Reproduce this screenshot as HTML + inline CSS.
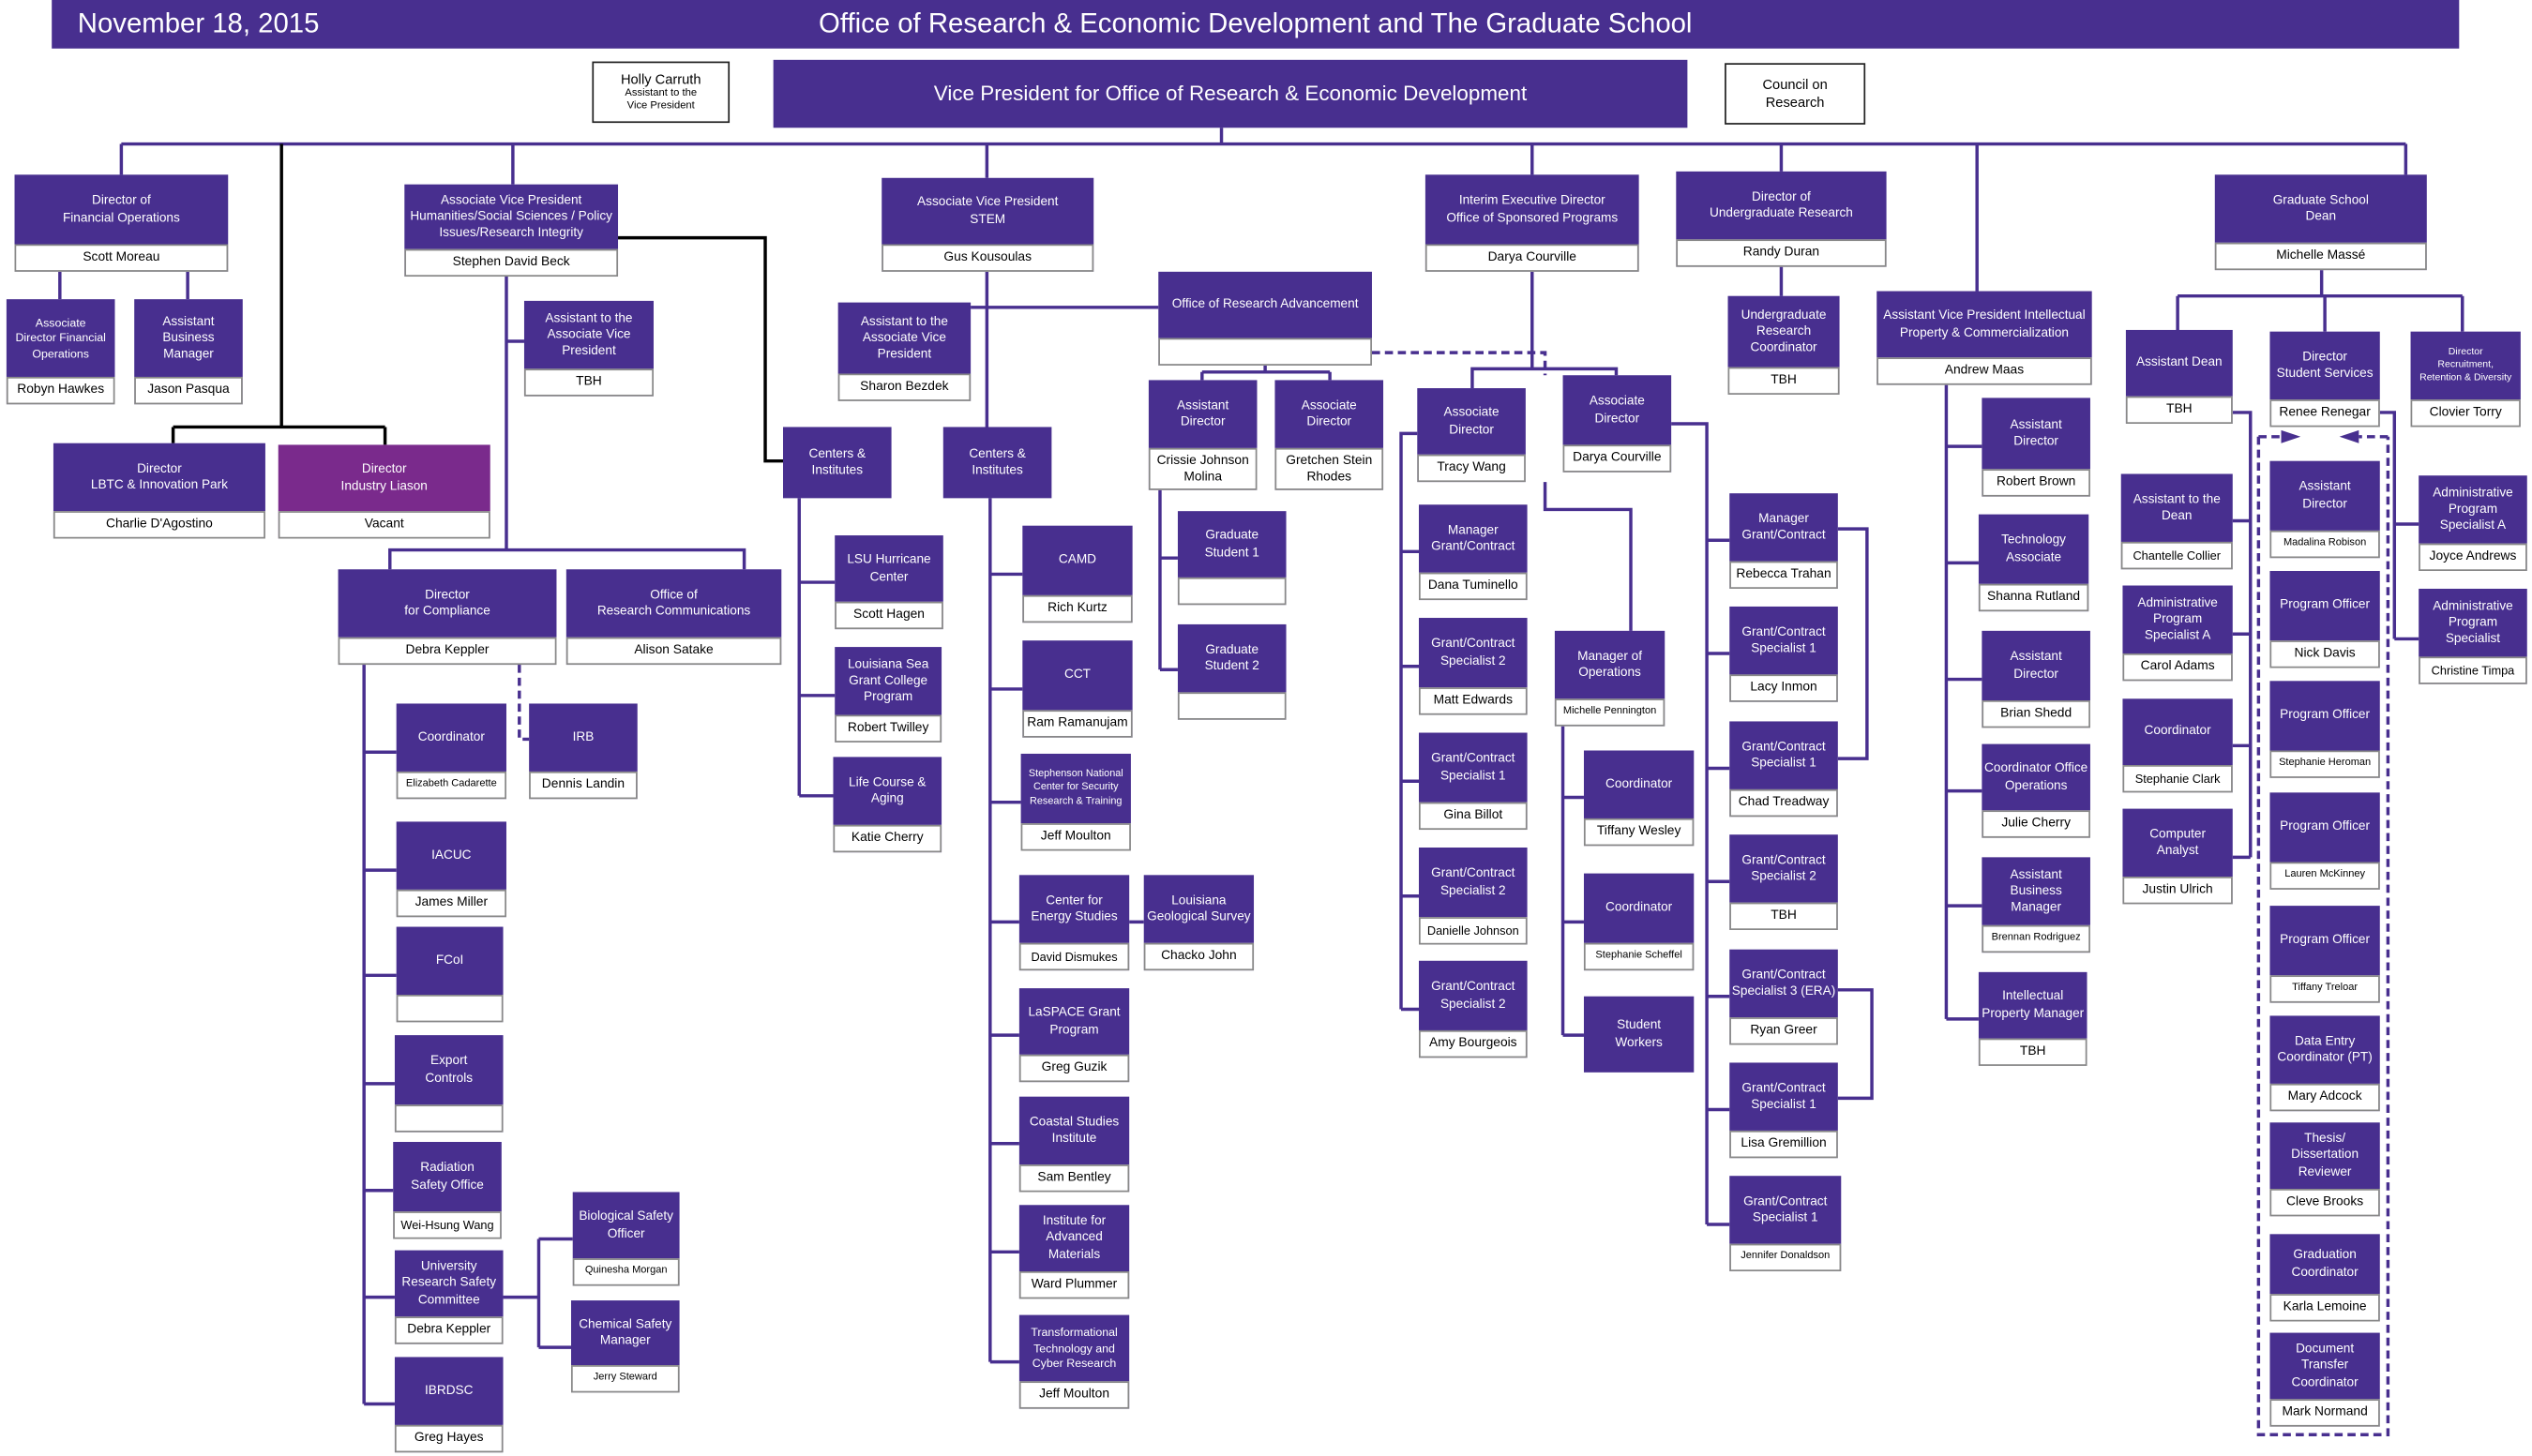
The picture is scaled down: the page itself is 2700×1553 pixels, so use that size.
<!DOCTYPE html>
<html><head><meta charset="utf-8"><style>
html,body{margin:0;padding:0;background:#fff;width:2700px;height:1552px;overflow:hidden}
#w{position:absolute;left:0;top:0;width:1565px;height:900px;transform:scale(1.7252);transform-origin:0 0;font-family:"Liberation Sans",sans-serif}
svg{position:absolute;left:0;top:0}
.b{position:absolute;background:#482f8f;color:#fff;font-size:7.9px;line-height:1.3;text-align:center;display:flex;flex-direction:column;box-sizing:border-box}
.t{flex:1;display:flex;align-items:center;justify-content:center;padding:0 1px}
.n{height:17px;background:#fff;color:#000;border:1px solid #888;display:flex;align-items:center;justify-content:center;box-sizing:border-box;white-space:nowrap;font-size:8px}
.s{font-size:6.4px}
.m{background:#7a2a8c}
.wb{position:absolute;background:#fff;border:1.5px solid #222;color:#000;text-align:center;display:flex;flex-direction:column;align-items:center;justify-content:center;box-sizing:border-box}
</style></head><body><div id="w">
<div style="position:absolute;left:32px;top:0;width:1488px;height:30px;background:#482f8f;color:#fff">
<div style="position:absolute;left:16px;top:5px;font-size:17px">November 18, 2015</div>
<div style="position:absolute;left:0;width:1488px;top:5px;font-size:17px;text-align:center">Office of Research &amp; Economic Development and The Graduate School</div>
</div>
<svg width="1565" height="900" viewBox="0 0 1565 900" fill="none">
<g stroke="#482f8f" stroke-width="2">
<path d="M755 79V89M75 89H1487M75 89V108M37 168V185M116 168V185M317 89V114M610 89V110M947 89V108M1101 89V106M1222 89V180M1487 89V108"/>
<path d="M313 171V340M313 211H324M241 352V340H460V352"/>
<path d="M225 411V868M225 465H245M225 538H245M225 603H245M225 670H244M225 736H243M225 802H244M225 868H244"/>
<path d="M311 802H333M333 766V833M333 766H354M333 833H353"/>
<path d="M494 308V492M494 360H516M494 430H516M494 492H515"/>
<path d="M610 168V264M600 190H716"/>
<path d="M612 308V842M612 355H632M612 426H632M612 496H631M612 570H630M612 640H630M612 707H630M612 774H630M612 842H630M698 570H707"/>
<path d="M782 226V230M743 230H822M743 230V235M822 230V235M717 303V414M717 345H728M717 414H728"/>
<path d="M947 168V228H910V240M947 228H999V232"/>
<path d="M876 268H866V624M866 341H877M866 412H877M866 483H877M866 554H877M866 624H877"/>
<path d="M955 298V315H1008V390M966 449V640M966 493H979M966 570H979M966 640H979"/>
<path d="M1033 262H1055V757M1055 334H1069M1055 404H1069M1055 475H1069M1055 545H1069M1055 616H1069M1055 686H1069M1055 757H1069"/>
<path d="M1136 327H1154V469H1136M1136 612H1157V679H1136"/>
<path d="M1101 165V183M1203 238V630M1203 276H1225M1203 348H1223M1203 420H1225M1203 489H1225M1203 560H1225M1203 630H1223"/>
<path d="M1435 167V183M1346 183H1522M1346 183V204M1437 183V205M1522 183V205"/>
<path d="M1380 255H1391V530M1380 322H1391M1380 392H1391M1380 461H1391M1380 530H1391"/>
<path d="M1471 255H1480V395M1480 324H1495M1480 395H1495"/>
</g>
<g stroke="#482f8f" stroke-width="2" stroke-dasharray="5,3">
<path d="M321 411V457H327M848 218H955V232"/>
<path d="M1396 270H1410M1476 270H1458M1396 270V887H1476V270"/>
</g>
<path d="M1410 266L1422 270L1410 274Z M1458 266L1446 270L1458 274Z" fill="#482f8f"/>
<g stroke="#000" stroke-width="2">
<path d="M174 89V264M107 264H238M107 264V274M238 264V275M382 147H473V285H484"/>
</g>
</svg>

<div class="wb" style="left:366px;top:38px;width:85px;height:38px"><div style="font-size:8.5px">Holly Carruth</div><div style="font-size:6.5px;line-height:1.2">Assistant to the<br>Vice President</div></div>
<div class="b" style="left:478px;top:37px;width:565px;height:42px;font-size:13px;justify-content:center">Vice President for Office of Research &amp; Economic Development</div>
<div class="wb" style="left:1066px;top:39px;width:87px;height:38px;font-size:8.5px;line-height:1.3">Council on<br>Research</div>

<div class="b" style="left:9px;top:108px;width:132px;height:60px"><div class="t">Director of<br>Financial Operations</div><div class="n">Scott Moreau</div></div>
<div class="b" style="left:4px;top:185px;width:67px;height:65px"><div class="t" style="font-size:7.2px">Associate<br>Director Financial<br>Operations</div><div class="n">Robyn Hawkes</div></div>
<div class="b" style="left:83px;top:185px;width:67px;height:65px"><div class="t">Assistant<br>Business<br>Manager</div><div class="n">Jason Pasqua</div></div>
<div class="b" style="left:33px;top:274px;width:131px;height:59px"><div class="t">Director<br>LBTC &amp; Innovation Park</div><div class="n">Charlie D'Agostino</div></div>
<div class="b m" style="left:172px;top:275px;width:131px;height:58px"><div class="t">Director<br>Industry Liason</div><div class="n">Vacant</div></div>

<div class="b" style="left:250px;top:114px;width:132px;height:57px"><div class="t">Associate Vice President Humanities/Social Sciences / Policy Issues/Research Integrity</div><div class="n">Stephen David Beck</div></div>
<div class="b" style="left:324px;top:186px;width:80px;height:59px"><div class="t">Assistant to the Associate Vice President</div><div class="n">TBH</div></div>
<div class="b" style="left:209px;top:352px;width:135px;height:59px"><div class="t">Director<br>for Compliance</div><div class="n">Debra Keppler</div></div>
<div class="b" style="left:350px;top:352px;width:133px;height:59px"><div class="t">Office of<br>Research Communications</div><div class="n">Alison Satake</div></div>
<div class="b" style="left:245px;top:435px;width:68px;height:59px"><div class="t">Coordinator</div><div class="n s">Elizabeth Cadarette</div></div>
<div class="b" style="left:327px;top:435px;width:67px;height:59px"><div class="t">IRB</div><div class="n">Dennis Landin</div></div>
<div class="b" style="left:245px;top:508px;width:68px;height:59px"><div class="t">IACUC</div><div class="n">James Miller</div></div>
<div class="b" style="left:245px;top:573px;width:66px;height:59px"><div class="t">FCoI</div><div class="n"></div></div>
<div class="b" style="left:244px;top:640px;width:67px;height:60px"><div class="t">Export<br>Controls</div><div class="n"></div></div>
<div class="b" style="left:243px;top:706px;width:67px;height:60px"><div class="t">Radiation<br>Safety Office</div><div class="n" style="font-size:7.4px">Wei-Hsung Wang</div></div>
<div class="b" style="left:244px;top:773px;width:67px;height:58px"><div class="t">University Research Safety Committee</div><div class="n">Debra Keppler</div></div>
<div class="b" style="left:354px;top:737px;width:66px;height:58px"><div class="t">Biological Safety Officer</div><div class="n s">Quinesha Morgan</div></div>
<div class="b" style="left:353px;top:804px;width:67px;height:57px"><div class="t">Chemical Safety Manager</div><div class="n s">Jerry Steward</div></div>
<div class="b" style="left:244px;top:839px;width:67px;height:59px"><div class="t">IBRDSC</div><div class="n">Greg Hayes</div></div>

<div class="b" style="left:484px;top:264px;width:67px;height:44px;justify-content:center">Centers &amp;<br>Institutes</div>
<div class="b" style="left:516px;top:331px;width:67px;height:58px"><div class="t">LSU Hurricane Center</div><div class="n">Scott Hagen</div></div>
<div class="b" style="left:516px;top:400px;width:66px;height:59px"><div class="t">Louisiana Sea Grant College Program</div><div class="n">Robert Twilley</div></div>
<div class="b" style="left:515px;top:468px;width:67px;height:59px"><div class="t">Life Course &amp;<br>Aging</div><div class="n">Katie Cherry</div></div>

<div class="b" style="left:545px;top:110px;width:131px;height:58px"><div class="t">Associate Vice President<br>STEM</div><div class="n">Gus Kousoulas</div></div>
<div class="b" style="left:518px;top:187px;width:82px;height:61px"><div class="t">Assistant to the Associate Vice President</div><div class="n">Sharon Bezdek</div></div>
<div class="b" style="left:583px;top:264px;width:67px;height:44px;justify-content:center">Centers &amp;<br>Institutes</div>
<div class="b" style="left:632px;top:325px;width:68px;height:60px"><div class="t">CAMD</div><div class="n">Rich Kurtz</div></div>
<div class="b" style="left:632px;top:396px;width:68px;height:60px"><div class="t">CCT</div><div class="n">Ram Ramanujam</div></div>
<div class="b" style="left:631px;top:466px;width:68px;height:60px"><div class="t" style="font-size:6.3px">Stephenson National Center for Security Research &amp; Training</div><div class="n">Jeff Moulton</div></div>
<div class="b" style="left:630px;top:541px;width:68px;height:59px"><div class="t">Center for<br>Energy Studies</div><div class="n" style="font-size:7.4px">David Dismukes</div></div>
<div class="b" style="left:707px;top:541px;width:68px;height:59px"><div class="t">Louisiana Geological Survey</div><div class="n">Chacko John</div></div>
<div class="b" style="left:630px;top:611px;width:68px;height:58px"><div class="t">LaSPACE Grant Program</div><div class="n">Greg Guzik</div></div>
<div class="b" style="left:630px;top:678px;width:68px;height:59px"><div class="t">Coastal Studies Institute</div><div class="n">Sam Bentley</div></div>
<div class="b" style="left:630px;top:745px;width:68px;height:58px"><div class="t">Institute for Advanced Materials</div><div class="n">Ward Plummer</div></div>
<div class="b" style="left:630px;top:813px;width:68px;height:58px"><div class="t" style="font-size:7.2px">Transformational Technology and Cyber Research</div><div class="n">Jeff Moulton</div></div>

<div class="b" style="left:716px;top:168px;width:132px;height:58px"><div class="t">Office of Research Advancement</div><div class="n"></div></div>
<div class="b" style="left:710px;top:235px;width:67px;height:68px"><div class="t">Assistant<br>Director</div><div class="n" style="height:26px;white-space:normal;line-height:1.2">Crissie Johnson Molina</div></div>
<div class="b" style="left:788px;top:235px;width:67px;height:68px"><div class="t">Associate<br>Director</div><div class="n" style="height:26px;white-space:normal;line-height:1.2">Gretchen Stein Rhodes</div></div>
<div class="b" style="left:728px;top:316px;width:67px;height:58px"><div class="t">Graduate<br>Student 1</div><div class="n"></div></div>
<div class="b" style="left:728px;top:386px;width:67px;height:59px"><div class="t">Graduate<br>Student 2</div><div class="n"></div></div>

<div class="b" style="left:881px;top:108px;width:132px;height:60px"><div class="t">Interim Executive Director<br>Office of Sponsored Programs</div><div class="n">Darya Courville</div></div>
<div class="b" style="left:876px;top:240px;width:67px;height:58px"><div class="t">Associate<br>Director</div><div class="n">Tracy Wang</div></div>
<div class="b" style="left:966px;top:232px;width:67px;height:60px"><div class="t">Associate<br>Director</div><div class="n">Darya Courville</div></div>
<div class="b" style="left:877px;top:312px;width:67px;height:59px"><div class="t">Manager<br>Grant/Contract</div><div class="n">Dana Tuminello</div></div>
<div class="b" style="left:877px;top:382px;width:67px;height:60px"><div class="t">Grant/Contract Specialist 2</div><div class="n">Matt Edwards</div></div>
<div class="b" style="left:877px;top:453px;width:67px;height:60px"><div class="t">Grant/Contract Specialist 1</div><div class="n">Gina Billot</div></div>
<div class="b" style="left:877px;top:524px;width:67px;height:60px"><div class="t">Grant/Contract Specialist 2</div><div class="n" style="font-size:7.4px">Danielle Johnson</div></div>
<div class="b" style="left:877px;top:594px;width:67px;height:60px"><div class="t">Grant/Contract Specialist 2</div><div class="n">Amy Bourgeois</div></div>
<div class="b" style="left:961px;top:390px;width:68px;height:59px"><div class="t">Manager of<br>Operations</div><div class="n s">Michelle Pennington</div></div>
<div class="b" style="left:979px;top:464px;width:68px;height:59px"><div class="t">Coordinator</div><div class="n">Tiffany Wesley</div></div>
<div class="b" style="left:979px;top:540px;width:68px;height:60px"><div class="t">Coordinator</div><div class="n s">Stephanie Scheffel</div></div>
<div class="b" style="left:979px;top:616px;width:68px;height:47px;justify-content:center">Student<br>Workers</div>
<div class="b" style="left:1069px;top:305px;width:67px;height:59px"><div class="t">Manager<br>Grant/Contract</div><div class="n">Rebecca Trahan</div></div>
<div class="b" style="left:1069px;top:375px;width:67px;height:59px"><div class="t">Grant/Contract Specialist 1</div><div class="n">Lacy Inmon</div></div>
<div class="b" style="left:1069px;top:446px;width:67px;height:59px"><div class="t">Grant/Contract Specialist 1</div><div class="n">Chad Treadway</div></div>
<div class="b" style="left:1069px;top:516px;width:67px;height:59px"><div class="t">Grant/Contract Specialist 2</div><div class="n">TBH</div></div>
<div class="b" style="left:1069px;top:587px;width:67px;height:59px"><div class="t">Grant/Contract Specialist 3 (ERA)</div><div class="n">Ryan Greer</div></div>
<div class="b" style="left:1069px;top:657px;width:67px;height:59px"><div class="t">Grant/Contract Specialist 1</div><div class="n">Lisa Gremillion</div></div>
<div class="b" style="left:1069px;top:727px;width:69px;height:59px"><div class="t">Grant/Contract Specialist 1</div><div class="n s">Jennifer Donaldson</div></div>

<div class="b" style="left:1036px;top:106px;width:130px;height:59px"><div class="t">Director of<br>Undergraduate Research</div><div class="n">Randy Duran</div></div>
<div class="b" style="left:1068px;top:183px;width:69px;height:61px"><div class="t">Undergraduate Research Coordinator</div><div class="n">TBH</div></div>

<div class="b" style="left:1160px;top:180px;width:133px;height:58px"><div class="t">Assistant Vice President Intellectual Property &amp; Commercialization</div><div class="n">Andrew Maas</div></div>
<div class="b" style="left:1225px;top:246px;width:67px;height:61px"><div class="t">Assistant<br>Director</div><div class="n">Robert Brown</div></div>
<div class="b" style="left:1223px;top:318px;width:68px;height:60px"><div class="t">Technology<br>Associate</div><div class="n">Shanna Rutland</div></div>
<div class="b" style="left:1225px;top:390px;width:67px;height:60px"><div class="t">Assistant<br>Director</div><div class="n">Brian Shedd</div></div>
<div class="b" style="left:1225px;top:460px;width:67px;height:58px"><div class="t">Coordinator Office Operations</div><div class="n">Julie Cherry</div></div>
<div class="b" style="left:1225px;top:530px;width:67px;height:59px"><div class="t">Assistant Business Manager</div><div class="n s">Brennan Rodriguez</div></div>
<div class="b" style="left:1223px;top:601px;width:67px;height:58px"><div class="t">Intellectual Property Manager</div><div class="n">TBH</div></div>

<div class="b" style="left:1369px;top:108px;width:131px;height:59px"><div class="t">Graduate School<br>Dean</div><div class="n">Michelle Massé</div></div>
<div class="b" style="left:1314px;top:204px;width:66px;height:58px"><div class="t">Assistant Dean</div><div class="n">TBH</div></div>
<div class="b" style="left:1403px;top:205px;width:68px;height:59px"><div class="t">Director<br>Student Services</div><div class="n">Renee Renegar</div></div>
<div class="b" style="left:1490px;top:205px;width:68px;height:59px"><div class="t" style="font-size:6.1px">Director<br>Recruitment,<br>Retention &amp; Diversity</div><div class="n">Clovier Torry</div></div>
<div class="b" style="left:1311px;top:293px;width:69px;height:59px"><div class="t">Assistant to the<br>Dean</div><div class="n" style="font-size:7.4px">Chantelle Collier</div></div>
<div class="b" style="left:1312px;top:362px;width:68px;height:59px"><div class="t">Administrative Program Specialist A</div><div class="n">Carol Adams</div></div>
<div class="b" style="left:1312px;top:432px;width:68px;height:58px"><div class="t">Coordinator</div><div class="n" style="font-size:7.4px">Stephanie Clark</div></div>
<div class="b" style="left:1312px;top:500px;width:68px;height:59px"><div class="t">Computer<br>Analyst</div><div class="n">Justin Ulrich</div></div>
<div class="b" style="left:1495px;top:294px;width:67px;height:59px"><div class="t">Administrative Program Specialist A</div><div class="n">Joyce Andrews</div></div>
<div class="b" style="left:1495px;top:364px;width:67px;height:59px"><div class="t">Administrative Program Specialist</div><div class="n" style="font-size:7.4px">Christine Timpa</div></div>
<div class="b" style="left:1403px;top:285px;width:68px;height:60px"><div class="t">Assistant<br>Director</div><div class="n s">Madalina Robison</div></div>
<div class="b" style="left:1403px;top:353px;width:68px;height:60px"><div class="t">Program Officer</div><div class="n">Nick Davis</div></div>
<div class="b" style="left:1403px;top:421px;width:68px;height:60px"><div class="t">Program Officer</div><div class="n s">Stephanie Heroman</div></div>
<div class="b" style="left:1403px;top:490px;width:68px;height:60px"><div class="t">Program Officer</div><div class="n s">Lauren McKinney</div></div>
<div class="b" style="left:1403px;top:560px;width:68px;height:60px"><div class="t">Program Officer</div><div class="n s">Tiffany Treloar</div></div>
<div class="b" style="left:1403px;top:628px;width:68px;height:59px"><div class="t">Data Entry Coordinator (PT)</div><div class="n">Mary Adcock</div></div>
<div class="b" style="left:1403px;top:694px;width:68px;height:58px"><div class="t">Thesis/<br>Dissertation Reviewer</div><div class="n">Cleve Brooks</div></div>
<div class="b" style="left:1403px;top:763px;width:68px;height:54px"><div class="t">Graduation Coordinator</div><div class="n">Karla Lemoine</div></div>
<div class="b" style="left:1403px;top:824px;width:68px;height:58px"><div class="t">Document Transfer Coordinator</div><div class="n">Mark Normand</div></div>
</div></body></html>
